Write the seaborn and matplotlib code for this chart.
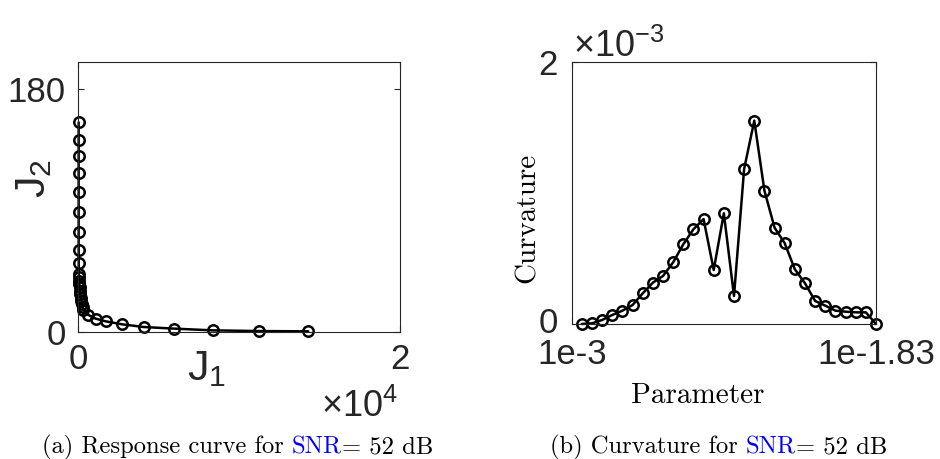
import numpy as np
import pandas as pd
import matplotlib
matplotlib.use('Agg')
import matplotlib.pyplot as plt
import matplotlib.transforms as mtransforms
import seaborn as sns

# Response curve (L-curve) points
j1 = [40, 40, 40, 40, 40, 40, 40, 42, 45, 50,
      60, 75, 90, 110, 130, 155, 180, 210, 240, 280, 330,
      622, 1098, 1720, 2736, 4083, 5969, 8394, 11254, 14300]
j2 = [155.3, 142.5, 130.6, 117.5, 103.5, 88.6, 74.1, 61.0, 50.9, 43.2,
      40.5, 38.0, 35.5, 33.0, 30.5, 28.0, 25.5, 23.0, 20.5, 18.5, 16.5,
      12.8, 9.9, 7.9, 5.7, 3.7, 2.5, 1.2, 0.7, 0.5]

# Curvature per parameter index (units of 1e-3)
param_idx = list(range(1, 31))
curv = [0.0, 0.005, 0.031, 0.069, 0.102, 0.145, 0.234, 0.316, 0.367, 0.471,
        0.609, 0.724, 0.802, 0.413, 0.846, 0.214, 1.185, 1.554, 1.019, 0.736,
        0.617, 0.418, 0.311, 0.176, 0.140, 0.102, 0.094, 0.089, 0.089, 0.0]
param_ticks = ['1e-3', '1e-1.83']

sns.set_theme(style='white')
plt.rcParams['font.family'] = ['Liberation Sans', 'DejaVu Sans']
plt.rcParams['mathtext.fontset'] = 'custom'
plt.rcParams['mathtext.rm'] = 'Liberation Sans'
plt.rcParams['mathtext.it'] = 'Liberation Sans:italic'
plt.rcParams['mathtext.sf'] = 'Liberation Sans'

TXT = '#262626'
W, H = 940, 459
fig = plt.figure(figsize=(W / 100, H / 100), dpi=100)

def box(l, t, r, b):
    return fig.add_axes([l / W, 1 - b / H, (r - l) / W, (b - t) / H])

ax1 = box(78, 62, 400, 332)
ax2 = box(571.7, 62.3, 876, 324)

df1 = pd.DataFrame({'J1': np.array(j1) / 1e4, 'J2': j2})
df2 = pd.DataFrame({'idx': param_idx, 'curv': curv})

line_kw = dict(color='black', linewidth=1.8, marker='o', markersize=7.5,
               markerfacecolor='none', markeredgecolor='black', markeredgewidth=1.8,
               estimator=None, sort=False, clip_on=False)
sns.lineplot(data=df1, x='J1', y='J2', ax=ax1, **line_kw)
sns.lineplot(data=df2, x='idx', y='curv', ax=ax2, **line_kw)

for ax in (ax1, ax2):
    for s in ax.spines.values():
        s.set_color(TXT)
        s.set_linewidth(0.8)
        s.set_visible(True)
    ax.tick_params(direction='in', length=4, width=0.8, color=TXT,
                   labelsize=25, labelcolor=TXT, top=True, right=True,
                   bottom=True, left=True)
    ax.set_xlabel('')
    ax.set_ylabel('')

ax1.set_xlim(0, 2)
ax1.set_ylim(0, 200)
ax1.set_xticks([0, 2])
ax1.set_xticklabels(['0', '2'])
ax1.set_yticks([0, 180])
ax1.set_yticklabels(['0', '180'])
ax1.tick_params(axis='x', pad=8)
ax1.tick_params(axis='y', pad=9)

ax2.set_xlim(0, 30)
ax2.set_ylim(0, 2)
ax2.set_xticks([0, 30])
ax2.set_xticklabels(param_ticks)
ax2.set_yticks([0, 2])
ax2.set_yticklabels(['0', '2'])
ax2.tick_params(axis='x', pad=10)
ax2.tick_params(axis='y', pad=10)

# nudge the lower "0" of the curvature axis up a little, as in the source
lbl0 = ax2.get_yticklabels()[0]
lbl0.set_transform(lbl0.get_transform() +
                   mtransforms.ScaledTranslation(0, 4 / 100, fig.dpi_scale_trans))

# axis labels and exponent markers
ax1.text(0.40, -0.065, 'J$_1$', transform=ax1.transAxes, ha='center', va='top',
         fontsize=31, color=TXT)
ax1.text(-0.135, 0.57, 'J$_2$', transform=ax1.transAxes, ha='center', va='center',
         rotation=90, fontsize=31, color=TXT)
ax1.text(0.994, -0.315, '×10$^{4}$', transform=ax1.transAxes, ha='right',
         va='baseline', fontsize=26, color=TXT)
ax2.text(0.004, 1.022, '×10$^{\\mathrm{-}3}$', transform=ax2.transAxes, ha='left',
         va='baseline', fontsize=26, color=TXT)
ax2.text(-0.143, 0.405, 'Curvature', transform=ax2.transAxes, ha='center',
         va='center', rotation=90, fontsize=21, family='cmr10', color='black')
ax2.text(0.413, -0.302, 'Parameter', transform=ax2.transAxes, ha='center',
         va='baseline', fontsize=21, family='cmr10', color='black')

# captions with a blue "SNR"
renderer = fig.canvas.get_renderer()

def caption(x_px, parts):
    x = x_px
    for txt, col in parts:
        t = fig.text(x / W, 1 - 453 / H, txt, fontsize=17.7, family='cmr10',
                     color=col, ha='left', va='baseline')
        x += t.get_window_extent(renderer).width

caption(41.7, [('(a) Response curve for ', 'black'), ('SNR', '#0000ff'),
               ('= 52 dB', 'black')])
caption(550, [('(b) Curvature for ', 'black'), ('SNR', '#0000ff'),
              ('= 52 dB', 'black')])

fig.savefig('out.png', dpi=100, facecolor='white')
